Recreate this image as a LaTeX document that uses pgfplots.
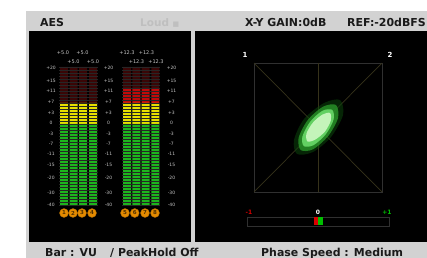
\documentclass[border=0pt]{standalone}
\usepackage{pgfplots}
\pgfplotsset{compat=1.18}
\usepackage{fontspec}
\setmainfont{DejaVu Sans}
\definecolor{panelgray}{HTML}{D2D2D2}
\definecolor{ledgreen}{HTML}{1DB51D}
\definecolor{ledyellow}{HTML}{E6E000}
\definecolor{ledred}{HTML}{C00A0A}
\definecolor{ledoff}{HTML}{3A0606}
\definecolor{ledorange}{HTML}{E38A00}
\definecolor{gonline}{HTML}{36321A}
\definecolor{gonbox}{HTML}{303030}
\definecolor{labgray}{HTML}{C8C8C8}
\definecolor{hdrtext}{HTML}{1A1A1A}
\definecolor{blobdark}{HTML}{0C4A0C}
\definecolor{blobouter}{HTML}{2A962A}
\definecolor{blobmid}{HTML}{62D062}
\definecolor{blobcore}{HTML}{C4F4BA}
\tikzset{meterlab/.style={font=\fontsize{4.5}{5}\selectfont, text=labgray, inner sep=0pt},
  peaklab/.style={font=\fontsize{5}{5}\selectfont, text=labgray, inner sep=0pt},
  hdr/.style={anchor=base west, font=\bfseries\fontsize{11}{11}\selectfont, text=hdrtext, inner sep=0pt}}
\newcommand{\mlab}[2]{%
  \node[meterlab] at (axis cs:51,#1) {#2};
  \node[meterlab] at (axis cs:108.5,#1) {#2};
  \node[meterlab] at (axis cs:171.5,#1) {#2};}
\pgfplotsset{overlay axis/.style={at={(0,0)}, anchor=south west, scale only axis,
  width=427bp, height=258bp, xmin=0, xmax=427, ymin=0, ymax=258,
  axis lines=none, clip=false}}
\begin{document}
\begin{tikzpicture}
\begin{axis}[overlay axis]
% panels
\fill[white] (axis cs:0,0) rectangle (axis cs:427,258);
\fill[panelgray] (axis cs:26,0) rectangle (axis cs:427,247);
\fill[black] (axis cs:29,16) rectangle (axis cs:191,227);
\fill[black] (axis cs:195,16) rectangle (axis cs:427,227);
% header
\node[hdr] at (axis cs:40,231.3) {AES};
\node[anchor=base west, font=\bfseries\fontsize{10.5}{11}\selectfont, text=black!25, inner sep=0pt] at (axis cs:140,231.3) {Loud {\fontsize{7}{7}\selectfont ■}};
\node[hdr] at (axis cs:245,231.3) {X-Y GAIN:0dB};
\node[hdr] at (axis cs:347,231.3) {REF:-20dBFS};
% footer
\node[hdr] at (axis cs:45,2) {Bar : VU};
\node[hdr] at (axis cs:110,2) {/ PeakHold Off};
\node[hdr] at (axis cs:261,2) {Phase Speed : Medium};
% meter scale labels
\mlab{190}{+20}
\mlab{177}{+15}
\mlab{167}{+11}
\mlab{156}{+7}
\mlab{145}{+3}
\mlab{135}{0}
\mlab{124}{-3}
\mlab{114}{-7}
\mlab{104}{-11}
\mlab{93}{-15}
\mlab{80}{-20}
\mlab{65}{-30}
\mlab{53}{-40}
% peak values
\node[peaklab] at (axis cs:63,205) {+5.0};
\node[peaklab] at (axis cs:73.5,196) {+5.0};
\node[peaklab] at (axis cs:82.5,205) {+5.0};
\node[peaklab] at (axis cs:93,196) {+5.0};
\node[peaklab] at (axis cs:127,205) {+12.3};
\node[peaklab] at (axis cs:136.5,196) {+12.3};
\node[peaklab] at (axis cs:146.5,205) {+12.3};
\node[peaklab] at (axis cs:156,196) {+12.3};
% channel number circles
\addplot[only marks, mark=*, mark size=4.5pt,
  mark options={fill=ledorange, draw=ledorange!75!black, line width=0.4pt},
  nodes near coords, point meta=explicit symbolic,
  every node near coord/.append style={anchor=center, inner sep=0pt,
    font=\bfseries\fontsize{5.5}{6}\selectfont, text=ledorange!35!black}]
  coordinates {(64,45)[1] (73,45)[2] (82,45)[3] (92,45)[4]
               (125,45)[5] (134.7,45)[6] (145,45)[7] (155,45)[8]};
% goniometer
\draw[gonbox, line width=0.7bp] (axis cs:254,66) rectangle (axis cs:382,195);
\draw[gonline, line width=0.7bp] (axis cs:254,195) -- (axis cs:382,66);
\draw[gonline, line width=0.7bp] (axis cs:382,195) -- (axis cs:254,66);
\draw[gonline, line width=0.7bp] (axis cs:318,195) -- (axis cs:318,66);
\node[font=\bfseries\fontsize{7}{7}\selectfont, text=white, inner sep=0pt] at (axis cs:245,203) {1};
\node[font=\bfseries\fontsize{7}{7}\selectfont, text=white, inner sep=0pt] at (axis cs:390,203) {2};
% Lissajous cloud
\addplot[fill=blobdark, fill opacity=0.5, draw=none, smooth cycle]
  coordinates {(340,158) (324,155) (304,139) (294,118) (297,104)
               (313,106) (331,121) (343,143)};
\addplot[fill=blobouter, fill opacity=0.8, draw=none, smooth cycle]
  coordinates {(336,153) (323.0,151.3) (307.8,138.0) (298.6,120.1)
               (300.8,107.9) (313.0,108.7) (328.2,122.0) (338,140)};
\addplot[fill=blobmid, draw=none, smooth cycle]
  coordinates {(332.2,148.1) (322.4,147.2) (310.1,136.2) (302.4,121.5)
               (303.8,111.9) (313.5,112.8) (325.9,123.8) (333.6,138.5)};
\addplot[fill=blobcore, draw=none, smooth cycle]
  coordinates {(330,145) (322.6,143.5) (313,135.5) (306.5,124.5)
               (307.5,116.5) (315.4,118.5) (325,126.5) (330.8,137.5)};
% correlation meter
\draw[gonbox, line width=0.7bp] (axis cs:247,32) rectangle (axis cs:389,41);
\addplot[fill=red!85!black, draw=none] coordinates {(313.5,32.5) (318,32.5) (318,40.5) (313.5,40.5)} -- cycle;
\addplot[fill=green!75!black, draw=none] coordinates {(318,32.5) (322.5,32.5) (322.5,40.5) (318,40.5)} -- cycle;
\node[font=\bfseries\fontsize{6}{6}\selectfont, text=red!85!black, inner sep=0pt] at (axis cs:249,46) {-1};
\node[font=\bfseries\fontsize{6}{6}\selectfont, text=white, inner sep=0pt] at (axis cs:318,46) {0};
\node[font=\bfseries\fontsize{6}{6}\selectfont, text=green!75!black, inner sep=0pt] at (axis cs:387,46) {+1};
\coordinate (SW) at (axis cs:0,0);
\coordinate (NE) at (axis cs:427,258);
\end{axis}
% level meter bars
\begin{axis}[overlay axis, ybar stacked, bar width=8]
\addplot[fill=none, draw=none] coordinates {(64,52) (73.7,52) (83,52) (93,52) (127,52) (136.3,52) (145.7,52) (155.3,52)};
\addplot[fill=ledgreen, draw=none] coordinates {(64,82) (73.7,82) (83,82) (93,82) (127,82) (136.3,82) (145.7,82) (155.3,82)};
\addplot[fill=ledyellow, draw=none] coordinates {(64,21) (73.7,21) (83,21) (93,21) (127,21) (136.3,21) (145.7,21) (155.3,21)};
\addplot[fill=ledred, draw=none] coordinates {(64,0) (73.7,0) (83,0) (93,0) (127,15) (136.3,15) (145.7,15) (155.3,15)};
\addplot[fill=ledoff, draw=none] coordinates {(64,36) (73.7,36) (83,36) (93,36) (127,21) (136.3,21) (145.7,21) (155.3,21)};
\end{axis}
% LED segment separators
\begin{axis}[overlay axis]
\pgfplotsinvokeforeach{53,56,...,191}{
  \draw[black!85, line width=0.4bp] (axis cs:59,#1) -- (axis cs:98,#1);
  \draw[black!85, line width=0.4bp] (axis cs:122,#1) -- (axis cs:160,#1);
}
\end{axis}
\pgfresetboundingbox
\path[use as bounding box] (SW) rectangle (NE);
\end{tikzpicture}
\end{document}
